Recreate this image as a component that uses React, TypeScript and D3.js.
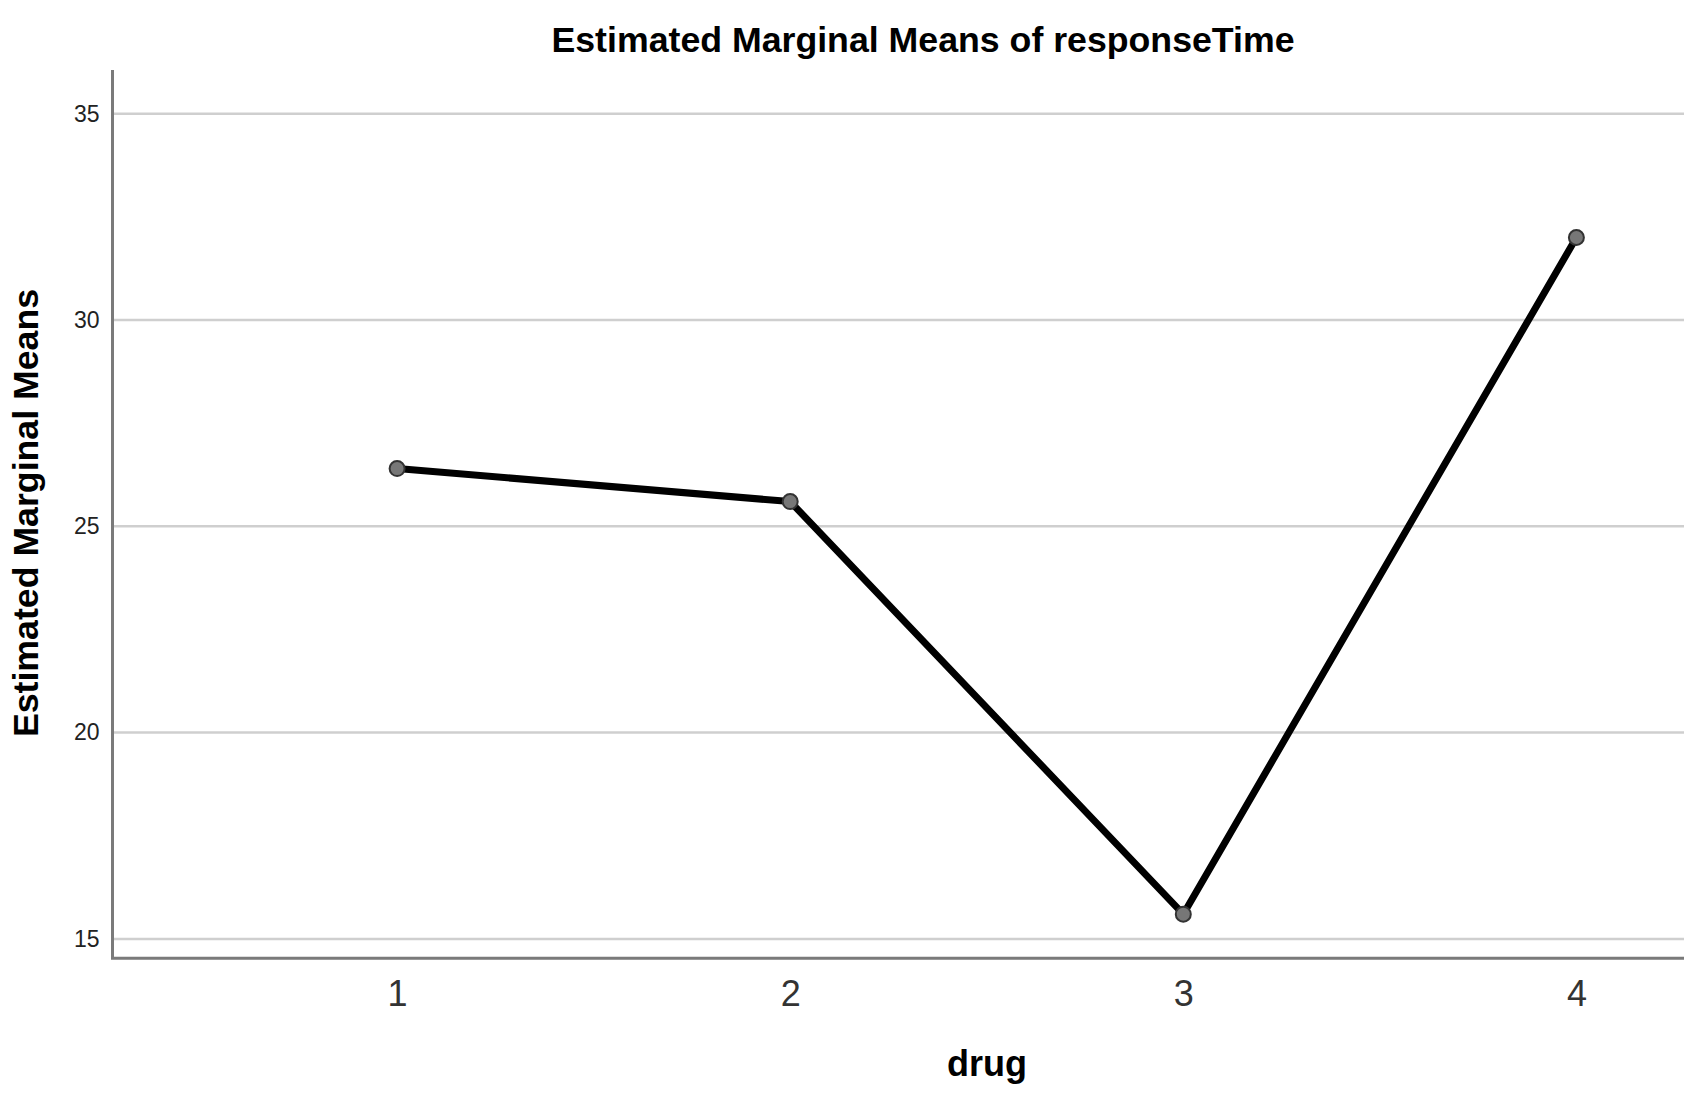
import React, { useEffect, useRef } from "react";
import * as d3 from "d3";

const drugs = ["1", "2", "3", "4"];
const means = [26.4, 25.6, 15.6, 32.0];
const yTicks = [15, 20, 25, 30, 35];

const W = 1684;
const H = 1120;

const App: React.FC = () => {
  const svgRef = useRef<SVGSVGElement>(null);

  useEffect(() => {
    if (!svgRef.current) return;
    const svg = d3.select(svgRef.current);
    svg.selectAll("*").remove();

    const left = 112.5;
    const top = 70;
    const bottom = 958.3;

    // plot area runs past the right edge of the picture
    const x = d3.scalePoint<string>().domain(drugs).range([left, 1861]).padding(0.724);
    const y = d3.scaleLinear().domain([14.53, 36.06]).range([bottom, top]);

    // grid lines
    svg
      .append("g")
      .selectAll("line")
      .data(yTicks)
      .join("line")
      .attr("x1", left)
      .attr("x2", W)
      .attr("y1", (d) => y(d))
      .attr("y2", (d) => y(d))
      .attr("stroke", "#cfcfcf")
      .attr("stroke-width", 2.5);

    // y axis
    const yAxis = svg
      .append("g")
      .attr("transform", `translate(${left},0)`)
      .call(d3.axisLeft(y).tickValues(yTicks).tickSize(0).tickPadding(13));
    yAxis.select(".domain").remove();
    yAxis
      .selectAll("text")
      .attr("font-family", "Liberation Sans, Arial, sans-serif")
      .attr("font-size", 23)
      .attr("fill", "#222");

    // x axis
    const xAxis = svg
      .append("g")
      .attr("transform", `translate(0,${bottom})`)
      .call(d3.axisBottom(x).tickSize(0).tickPadding(22));
    xAxis.select(".domain").remove();
    xAxis
      .selectAll("text")
      .attr("font-family", "Liberation Sans, Arial, sans-serif")
      .attr("font-size", 36)
      .attr("fill", "#333");

    // axis frame
    svg
      .append("path")
      .attr("d", `M${left},${top}V${bottom}H${W}`)
      .attr("fill", "none")
      .attr("stroke", "#7a7a7a")
      .attr("stroke-width", 3);

    // mean line
    const line = d3
      .line<number>()
      .x((_, i) => x(drugs[i]) as number)
      .y((d) => y(d));

    svg
      .append("path")
      .datum(means)
      .attr("d", line)
      .attr("fill", "none")
      .attr("stroke", "#000")
      .attr("stroke-width", 7)
      .attr("stroke-linejoin", "round");

    svg
      .append("g")
      .selectAll("circle")
      .data(means)
      .join("circle")
      .attr("cx", (_, i) => x(drugs[i]) as number)
      .attr("cy", (d) => y(d))
      .attr("r", 7.5)
      .attr("fill", "#777")
      .attr("stroke", "#333")
      .attr("stroke-width", 2);

    // titles
    svg
      .append("text")
      .attr("x", 923)
      .attr("y", 52)
      .attr("text-anchor", "middle")
      .attr("font-family", "Liberation Sans, Arial, sans-serif")
      .attr("font-weight", "bold")
      .attr("font-size", 35.7)
      .text("Estimated Marginal Means of responseTime");

    svg
      .append("text")
      .attr("transform", `translate(38,513) rotate(-90)`)
      .attr("text-anchor", "middle")
      .attr("font-family", "Liberation Sans, Arial, sans-serif")
      .attr("font-weight", "bold")
      .attr("font-size", 35.7)
      .text("Estimated Marginal Means");

    svg
      .append("text")
      .attr("x", 987)
      .attr("y", 1076)
      .attr("text-anchor", "middle")
      .attr("font-family", "Liberation Sans, Arial, sans-serif")
      .attr("font-weight", "bold")
      .attr("font-size", 36)
      .text("drug");
  }, []);

  return (
    <svg
      ref={svgRef}
      width={W}
      height={H}
      style={{ position: "absolute", top: 0, left: 0, background: "#fff" }}
    ></svg>
  );
};

export default App;
